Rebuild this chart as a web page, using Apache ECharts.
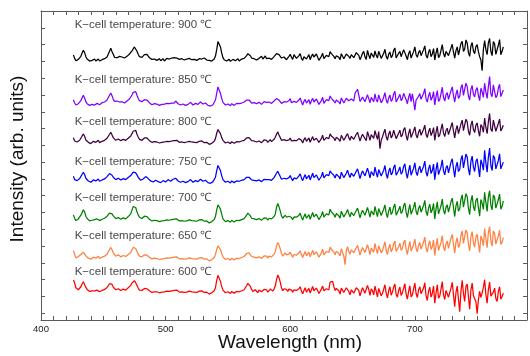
<!DOCTYPE html>
<html>
<head>
<meta charset="utf-8">
<script src="https://cdn.jsdelivr.net/npm/echarts@6/dist/echarts.min.js"></script>
<style>
    html, body { margin: 0; padding: 0; background: #fff; }
    #chart { width: 530px; height: 356px; }
</style>
</head>
<body>
<div id="chart"></div>
<script>
/* ------ data (offset as plotted, 1 nm steps) ------ */

var wavelength = [
    426,427,428,429,430,431,432,433,434,435,436,437,438,439,440,441,442,443,444,445,
    446,447,448,449,450,451,452,453,454,455,456,457,458,459,460,461,462,463,464,465,
    466,467,468,469,470,471,472,473,474,475,476,477,478,479,480,481,482,483,484,485,
    486,487,488,489,490,491,492,493,494,495,496,497,498,499,500,501,502,503,504,505,
    506,507,508,509,510,511,512,513,514,515,516,517,518,519,520,521,522,523,524,525,
    526,527,528,529,530,531,532,533,534,535,536,537,538,539,540,541,542,543,544,545,
    546,547,548,549,550,551,552,553,554,555,556,557,558,559,560,561,562,563,564,565,
    566,567,568,569,570,571,572,573,574,575,576,577,578,579,580,581,582,583,584,585,
    586,587,588,589,590,591,592,593,594,595,596,597,598,599,600,601,602,603,604,605,
    606,607,608,609,610,611,612,613,614,615,616,617,618,619,620,621,622,623,624,625,
    626,627,628,629,630,631,632,633,634,635,636,637,638,639,640,641,642,643,644,645,
    646,647,648,649,650,651,652,653,654,655,656,657,658,659,660,661,662,663,664,665,
    666,667,668,669,670,671,672,673,674,675,676,677,678,679,680,681,682,683,684,685,
    686,687,688,689,690,691,692,693,694,695,696,697,698,699,700,701,702,703,704,705,
    706,707,708,709,710,711,712,713,714,715,716,717,718,719,720,721,722,723,724,725,
    726,727,728,729,730,731,732,733,734,735,736,737,738,739,740,741,742,743,744,745,
    746,747,748,749,750,751,752,753,754,755,756,757,758,759,760,761,762,763,764,765,
    766,767,768,769,770,771
];

var temperatures = ['900', '850', '800', '750', '700', '650', '600'];

var s900 = [
    15.38,15.18,15.04,15.08,15.12,15.20,15.30,15.50,15.66,15.52,15.28,15.14,15.06,15.02,14.98,15.06,15.10,15.14,15.02,15.08,
    15.14,15.02,15.04,15.10,15.12,15.16,15.20,15.26,15.36,15.60,15.78,15.58,15.42,15.24,15.18,15.22,15.26,15.30,15.20,15.26,
    15.30,15.20,15.22,15.30,15.36,15.44,15.48,15.62,15.74,15.86,15.80,15.60,15.42,15.28,15.20,15.24,15.30,15.40,15.46,15.42,
    15.34,15.22,15.16,15.12,15.08,15.14,15.18,15.06,15.10,15.16,15.04,15.10,15.16,15.02,15.08,15.18,15.22,15.14,15.12,15.20,
    15.26,15.22,15.32,15.20,15.16,15.12,15.08,15.16,15.14,15.08,15.04,15.14,15.12,15.18,15.22,15.10,15.06,15.12,15.16,15.06,
    15.10,15.16,15.24,15.14,15.12,15.20,15.18,15.08,15.04,15.06,14.98,15.02,15.08,15.14,15.32,15.70,16.18,16.26,15.86,15.50,
    15.22,15.10,15.04,15.02,15.08,15.12,15.00,15.06,15.12,15.08,15.04,15.10,15.16,15.02,15.06,15.14,15.22,15.18,15.28,15.34,
    15.46,15.42,15.34,15.20,15.10,15.16,15.20,15.08,15.04,15.18,15.24,15.30,15.14,15.22,15.32,15.16,15.10,15.20,15.26,15.12,
    15.16,15.28,15.36,15.46,15.52,15.40,15.30,15.20,15.12,15.26,15.34,15.10,15.18,15.30,15.42,15.24,15.12,15.40,15.32,15.18,
    15.22,15.34,15.46,15.18,15.06,15.28,15.38,15.14,15.24,15.40,15.10,15.30,15.44,15.26,15.18,15.44,15.36,15.06,15.14,15.30,
    15.48,15.16,15.22,15.36,15.40,15.28,15.58,15.46,15.50,15.30,15.16,15.34,15.42,15.24,15.10,15.46,15.38,15.16,15.22,15.44,
    15.54,15.30,15.18,15.40,15.46,15.22,15.28,15.52,15.62,15.36,15.10,15.28,15.48,15.60,15.26,15.12,15.66,15.38,15.16,15.50,
    15.44,15.24,15.62,15.36,15.20,15.60,15.52,15.18,15.28,15.48,15.72,15.30,15.12,15.42,15.56,15.22,15.34,15.66,15.80,15.20,
    15.18,15.48,15.60,15.28,15.36,15.70,15.76,15.32,15.10,15.46,15.64,15.20,15.30,15.58,15.86,15.40,15.24,15.52,15.66,15.34,
    15.40,15.70,15.92,15.36,15.20,15.54,15.72,15.28,15.44,15.76,15.08,15.50,15.80,15.22,15.34,15.66,16.00,15.48,15.26,15.60,
    15.70,15.34,15.42,15.80,16.02,15.56,15.20,15.64,15.86,15.38,15.48,16.06,16.20,15.60,15.72,16.28,16.10,15.52,15.30,15.92,
    16.12,15.62,15.46,15.88,16.00,15.58,15.28,15.10,14.45,15.72,16.24,15.70,15.40,16.10,16.36,15.60,15.34,16.18,16.04,15.42,
    15.52,15.96,16.30,15.40,15.60,15.86
];

var s850 = [
    12.72,12.52,12.40,12.46,12.48,12.58,12.66,12.84,12.98,12.82,12.60,12.48,12.42,12.38,12.36,12.44,12.50,12.40,12.44,12.50,
    12.56,12.42,12.46,12.54,12.52,12.58,12.62,12.70,12.80,12.98,13.12,12.96,12.74,12.62,12.58,12.64,12.66,12.58,12.54,12.60,
    12.62,12.52,12.56,12.64,12.70,12.76,12.84,13.00,13.16,13.26,13.20,12.98,12.80,12.66,12.58,12.60,12.64,12.72,12.78,12.70,
    12.62,12.54,12.48,12.42,12.40,12.48,12.52,12.46,12.44,12.38,12.36,12.44,12.50,12.46,12.42,12.50,12.56,12.48,12.46,12.52,
    12.58,12.52,12.64,12.54,12.48,12.44,12.40,12.48,12.46,12.42,12.38,12.46,12.44,12.50,12.56,12.46,12.40,12.44,12.50,12.42,
    12.44,12.50,12.58,12.52,12.46,12.40,12.52,12.44,12.38,12.30,12.34,12.40,12.42,12.50,12.70,13.10,13.48,13.40,13.10,12.80,
    12.56,12.46,12.40,12.44,12.46,12.40,12.36,12.48,12.50,12.38,12.42,12.50,12.54,12.48,12.44,12.52,12.60,12.58,12.66,12.70,
    12.76,12.70,12.62,12.52,12.46,12.54,12.58,12.48,12.40,12.56,12.62,12.44,12.50,12.60,12.70,12.56,12.46,12.58,12.64,12.50,
    12.52,12.64,12.72,12.78,12.80,12.70,12.62,12.50,12.44,12.60,12.70,12.58,12.52,12.66,12.78,12.54,12.46,12.62,12.68,12.56,
    12.56,12.70,12.82,12.60,12.40,12.62,12.74,12.52,12.58,12.72,12.44,12.66,12.80,12.58,12.52,12.76,12.72,12.44,12.48,12.66,
    12.86,12.50,12.58,12.72,12.78,12.66,12.94,12.80,12.86,12.64,12.52,12.70,12.80,12.58,12.46,12.82,12.76,12.52,12.60,12.80,
    12.90,12.66,12.56,12.76,12.84,12.64,13.10,13.22,13.34,13.00,12.62,12.74,12.88,12.98,12.60,12.52,13.02,12.78,12.54,12.86,
    12.84,12.60,13.06,12.72,12.58,13.00,12.96,12.54,12.66,12.88,13.14,12.70,12.50,12.82,13.00,12.62,12.74,13.06,13.22,12.58,
    12.56,12.88,13.04,12.66,12.78,13.10,13.20,12.72,12.48,12.86,13.10,12.60,13.06,12.64,12.10,12.70,12.62,12.92,13.08,12.74,
    12.82,13.10,13.38,12.76,12.58,12.94,13.16,12.68,12.86,13.20,12.40,12.90,13.26,12.62,12.74,13.08,13.46,12.86,12.64,13.02,
    13.14,12.74,12.84,13.26,13.48,12.96,12.58,13.04,13.30,12.80,12.92,13.44,13.62,12.98,13.08,13.70,13.50,12.94,12.70,13.34,
    13.56,13.04,12.88,13.30,13.44,12.98,12.66,13.40,13.20,12.86,13.70,13.18,12.80,13.50,14.10,13.06,12.90,13.60,13.52,12.84,
    12.96,13.40,13.64,12.90,13.00,13.30
];

var s800 = [
    10.46,10.26,10.16,10.20,10.22,10.30,10.40,10.56,10.68,10.54,10.32,10.22,10.18,10.12,10.10,10.18,10.24,10.14,10.18,10.24,
    10.30,10.16,10.20,10.24,10.26,10.30,10.34,10.42,10.50,10.66,10.78,10.62,10.46,10.36,10.30,10.34,10.38,10.30,10.28,10.34,
    10.36,10.26,10.30,10.38,10.42,10.48,10.56,10.70,10.84,10.94,10.90,10.66,10.50,10.36,10.28,10.30,10.36,10.44,10.50,10.44,
    10.38,10.28,10.22,10.18,10.16,10.22,10.26,10.20,10.18,10.14,10.12,10.18,10.24,10.20,10.16,10.24,10.30,10.22,10.20,10.26,
    10.32,10.28,10.38,10.30,10.22,10.18,10.14,10.20,10.20,10.16,10.12,10.20,10.18,10.24,10.30,10.20,10.14,10.18,10.24,10.16,
    10.18,10.24,10.32,10.26,10.20,10.16,10.26,10.18,10.12,10.06,10.06,10.12,10.16,10.24,10.40,10.72,10.94,10.98,10.70,10.46,
    10.30,10.20,10.14,10.18,10.20,10.14,10.10,10.22,10.24,10.12,10.16,10.22,10.28,10.20,10.18,10.26,10.32,10.30,10.36,10.44,
    10.50,10.46,10.40,10.28,10.20,10.26,10.30,10.20,10.14,10.26,10.34,10.16,10.22,10.32,10.40,10.30,10.18,10.28,10.34,10.22,
    10.26,10.36,10.48,10.66,10.80,10.62,10.46,10.30,10.22,10.34,10.40,10.28,10.20,10.32,10.44,10.26,10.16,10.30,10.38,10.28,
    10.24,10.40,10.50,10.30,10.14,10.34,10.46,10.24,10.30,10.44,10.18,10.36,10.52,10.30,10.26,10.42,10.48,10.18,10.22,10.40,
    10.60,10.30,10.32,10.46,10.54,10.40,10.68,10.56,10.62,10.44,10.28,10.48,10.58,10.36,10.24,10.60,10.56,10.30,10.36,10.58,
    10.70,10.46,10.30,10.54,10.62,10.36,10.44,10.66,10.78,10.52,10.26,10.48,10.66,10.74,10.40,10.28,10.82,10.58,10.30,10.64,
    10.64,10.42,10.88,10.60,10.36,10.82,9.80,10.30,10.50,10.74,10.96,10.52,10.30,10.66,10.86,10.44,10.58,10.90,11.00,10.40,
    10.40,10.72,10.90,10.50,10.62,10.94,11.06,10.58,10.30,10.70,10.98,10.46,10.56,10.86,11.10,10.62,10.44,10.78,10.96,10.60,
    10.70,10.96,11.20,10.64,10.46,10.80,11.02,10.58,10.76,11.06,10.30,10.78,11.14,10.50,10.62,10.96,11.28,10.74,10.52,10.88,
    11.02,10.64,10.70,11.12,11.36,10.86,10.44,10.94,11.18,10.70,10.80,11.28,11.50,10.88,10.96,11.56,11.40,10.84,10.60,11.20,
    11.46,10.94,10.76,11.20,11.34,10.86,10.54,11.24,11.10,10.78,11.62,11.08,10.70,11.40,11.90,10.96,10.82,11.50,11.42,10.84,
    10.90,11.30,11.56,10.86,11.00,11.20
];

var s750 = [
    8.16,7.96,7.86,7.90,7.94,8.02,8.12,8.28,8.40,8.26,8.04,7.94,7.88,7.84,7.80,7.86,7.94,7.90,7.88,7.96,
    8.00,7.86,7.90,7.94,7.96,8.00,8.06,8.14,8.20,8.32,8.30,8.22,8.10,8.02,7.96,8.00,8.04,7.98,7.94,8.00,
    8.02,7.92,7.96,8.02,8.08,8.14,8.20,8.30,8.40,8.46,8.36,8.24,8.10,8.00,7.92,7.96,8.00,8.08,8.14,8.06,
    8.02,7.94,7.88,7.84,7.82,7.88,7.92,7.86,7.84,7.80,7.78,7.84,7.90,7.86,7.82,7.90,7.96,7.88,7.86,7.92,
    7.98,7.94,8.04,7.96,7.88,7.84,7.80,7.86,7.86,7.82,7.78,7.84,7.84,7.90,7.96,7.86,7.80,7.84,7.90,7.82,
    7.84,7.90,7.98,7.92,7.86,7.82,7.92,7.84,7.78,7.72,7.74,7.80,7.84,7.92,8.10,8.50,8.80,8.86,8.50,8.20,
    7.96,7.86,7.80,7.84,7.86,7.80,7.76,7.88,7.90,7.78,7.82,7.88,7.94,7.86,7.84,7.92,7.98,7.96,8.02,8.10,
    8.16,8.10,8.06,7.94,7.86,7.92,7.98,7.88,7.80,7.94,8.02,7.84,7.90,7.98,8.08,7.96,7.86,7.96,8.04,7.92,
    7.96,8.08,8.18,8.34,8.46,8.30,8.14,7.98,7.92,8.04,8.12,8.00,7.94,8.08,8.20,8.02,7.90,8.06,8.14,8.00,
    8.00,8.18,8.30,8.06,7.90,8.10,8.26,8.00,8.08,8.22,7.94,8.14,8.34,8.08,8.04,8.24,8.28,7.92,7.98,8.16,
    8.40,8.06,8.10,8.26,8.34,8.20,8.48,8.36,8.42,8.22,8.06,8.28,8.38,8.14,8.00,8.40,8.36,8.08,8.14,8.34,
    8.52,8.26,8.08,8.34,8.44,8.16,8.22,8.46,8.60,8.32,8.02,8.28,8.48,8.56,8.18,8.10,8.64,8.38,8.06,8.44,
    8.42,8.20,8.70,8.38,8.10,8.56,8.62,8.18,8.26,8.52,8.80,8.30,8.04,8.44,8.66,8.24,8.36,8.68,8.84,8.22,
    8.14,8.50,8.72,8.28,8.40,8.74,8.90,8.36,8.04,8.48,8.82,8.22,8.30,8.64,8.96,8.40,8.20,8.58,8.76,8.36,
    8.44,8.76,9.06,8.40,8.16,8.60,8.84,8.32,8.50,8.88,7.96,8.54,8.98,8.26,8.36,8.72,9.14,8.48,8.24,8.66,
    8.80,8.36,8.40,9.00,9.20,8.62,8.10,8.74,9.00,8.44,8.56,9.16,9.40,8.66,8.70,9.48,9.30,8.60,8.22,9.06,
    9.36,8.70,8.44,9.04,9.20,8.66,8.12,9.14,8.90,8.52,9.70,8.96,8.40,9.30,9.84,8.80,8.50,9.40,9.26,8.60,
    8.56,9.10,9.50,8.60,8.70,9.00
];

var s700 = [
    5.86,5.66,5.52,5.58,5.62,5.72,5.84,6.00,6.16,6.04,5.78,5.64,5.56,5.50,5.48,5.54,5.60,5.58,5.54,5.62,
    5.66,5.52,5.56,5.60,5.62,5.66,5.72,5.78,5.86,5.96,6.02,5.92,5.80,5.70,5.64,5.68,5.70,5.64,5.60,5.66,
    5.68,5.58,5.62,5.70,5.76,5.84,5.92,6.14,6.36,6.42,6.30,6.04,5.86,5.72,5.62,5.64,5.70,5.78,5.84,5.76,
    5.68,5.60,5.54,5.50,5.48,5.54,5.58,5.52,5.50,5.46,5.44,5.50,5.56,5.52,5.48,5.56,5.62,5.54,5.52,5.58,
    5.64,5.60,5.70,5.62,5.54,5.50,5.46,5.52,5.52,5.48,5.44,5.50,5.50,5.56,5.62,5.52,5.46,5.50,5.56,5.48,
    5.50,5.56,5.64,5.58,5.52,5.48,5.58,5.50,5.44,5.38,5.40,5.46,5.50,5.58,5.76,6.16,6.46,6.52,6.20,5.90,
    5.62,5.52,5.46,5.50,5.52,5.46,5.42,5.54,5.56,5.44,5.48,5.54,5.60,5.52,5.50,5.58,5.66,5.64,5.72,5.84,
    5.96,5.92,5.80,5.66,5.56,5.62,5.68,5.58,5.50,5.64,5.72,5.54,5.58,5.68,5.78,5.66,5.54,5.66,5.74,5.62,
    5.64,5.76,5.90,6.30,6.54,6.34,6.10,5.80,5.66,5.76,5.84,5.72,5.62,5.78,5.88,5.70,5.58,5.74,5.82,5.72,
    5.66,5.84,5.96,5.72,5.56,5.76,5.92,5.66,5.74,5.88,5.60,5.80,6.00,5.74,5.70,5.90,5.94,5.58,5.64,5.82,
    6.06,5.72,5.76,5.92,6.00,5.86,6.20,6.04,6.08,5.88,5.72,5.94,6.04,5.80,5.66,6.08,6.02,5.74,5.80,6.00,
    6.18,5.92,5.74,6.00,6.10,5.82,5.88,6.12,6.26,5.98,5.68,5.94,6.14,6.22,5.84,5.76,6.30,6.04,5.72,6.10,
    6.08,5.86,6.36,6.04,5.76,6.24,6.28,5.82,5.92,6.20,6.46,5.96,5.70,6.10,6.32,5.88,6.02,6.34,6.50,5.84,
    5.80,6.16,6.38,5.94,6.06,6.40,6.56,6.02,5.70,6.14,6.48,5.90,5.96,6.30,6.62,6.06,5.86,6.24,6.42,6.02,
    6.10,6.42,6.72,6.06,5.82,6.26,6.50,5.98,6.16,6.54,5.62,6.20,6.64,5.92,6.02,6.40,6.80,6.14,5.90,6.32,
    6.46,6.02,6.06,6.64,6.86,6.30,5.76,6.40,6.66,6.08,6.22,6.80,7.06,6.32,6.36,7.12,6.96,6.24,5.88,6.70,
    7.02,6.36,6.10,6.72,6.86,6.30,5.78,6.78,6.56,6.18,7.20,6.60,6.06,6.94,7.30,6.44,6.16,7.04,6.92,6.26,
    6.22,6.76,7.10,6.20,6.36,6.70
];

var s650 = [
    3.74,3.52,3.30,3.34,3.38,3.44,3.50,3.58,3.64,3.54,3.42,3.34,3.28,3.24,3.22,3.28,3.34,3.30,3.28,3.36,
    3.40,3.26,3.30,3.34,3.36,3.40,3.46,3.52,3.62,3.80,3.92,3.78,3.60,3.50,3.40,3.44,3.48,3.42,3.36,3.40,
    3.44,3.34,3.38,3.44,3.50,3.56,3.62,3.78,3.92,3.98,3.86,3.70,3.52,3.40,3.34,3.36,3.40,3.48,3.54,3.46,
    3.42,3.34,3.28,3.24,3.22,3.28,3.32,3.26,3.24,3.20,3.18,3.24,3.30,3.26,3.22,3.30,3.36,3.28,3.26,3.32,
    3.38,3.34,3.44,3.36,3.28,3.24,3.20,3.26,3.26,3.22,3.18,3.24,3.24,3.30,3.36,3.26,3.20,3.24,3.30,3.22,
    3.24,3.30,3.38,3.32,3.26,3.22,3.32,3.24,3.18,3.12,3.14,3.20,3.24,3.32,3.50,3.80,4.02,4.08,3.80,3.56,
    3.36,3.26,3.20,3.24,3.26,3.20,3.16,3.28,3.30,3.18,3.22,3.28,3.34,3.26,3.24,3.32,3.40,3.38,3.46,3.56,
    3.64,3.60,3.52,3.38,3.28,3.34,3.40,3.30,3.22,3.36,3.44,3.26,3.32,3.42,3.52,3.40,3.28,3.40,3.46,3.36,
    3.40,3.52,3.66,4.00,4.22,4.06,3.84,3.56,3.40,3.50,3.60,3.48,3.38,3.52,3.64,3.46,3.34,3.50,3.58,3.46,
    3.42,3.60,3.72,3.48,3.32,3.52,3.68,3.42,3.50,3.64,3.36,3.56,3.76,3.50,3.46,3.66,3.70,3.34,3.40,3.58,
    3.82,3.48,3.52,3.68,3.76,3.62,3.94,3.80,3.86,3.64,3.48,3.70,3.80,3.56,3.42,3.84,3.78,3.40,2.90,3.72,
    3.96,3.70,3.52,3.78,3.88,3.60,3.66,3.90,4.04,3.76,3.46,3.72,3.92,4.00,3.62,3.54,4.08,3.82,3.50,3.88,
    3.88,3.64,4.16,3.82,3.56,4.02,4.08,3.60,3.72,3.98,4.26,3.74,3.50,3.90,4.12,3.66,3.82,4.14,4.30,3.68,
    3.60,3.96,4.18,3.74,3.86,4.20,4.36,3.82,3.50,3.94,4.28,3.70,3.76,4.10,4.42,3.86,3.66,4.04,4.22,3.82,
    3.92,4.24,4.54,3.88,3.64,4.08,4.32,3.80,3.98,4.36,3.44,4.02,4.46,3.74,3.84,4.22,4.62,3.96,3.72,4.14,
    4.30,3.86,3.90,4.48,4.70,4.12,3.60,4.24,4.50,3.92,4.06,4.64,4.90,4.16,4.20,4.96,4.80,4.10,3.72,4.56,
    4.86,4.20,3.94,4.54,4.70,4.16,3.62,4.60,4.40,4.02,5.04,4.44,3.90,4.80,5.16,4.30,4.00,4.90,4.76,4.12,
    4.06,4.60,4.94,4.10,4.22,4.50
];

var s600 = [
    1.98,1.80,1.52,1.44,1.40,1.48,1.58,1.76,1.88,1.78,1.54,1.42,1.36,1.30,1.28,1.34,1.38,1.34,1.32,1.38,
    1.42,1.28,1.32,1.36,1.38,1.42,1.48,1.54,1.62,1.76,1.84,1.72,1.56,1.46,1.40,1.44,1.46,1.40,1.36,1.42,
    1.44,1.34,1.38,1.46,1.52,1.60,1.66,1.80,1.88,1.94,1.82,1.66,1.50,1.38,1.32,1.36,1.40,1.48,1.52,1.46,
    1.40,1.34,1.28,1.24,1.22,1.28,1.32,1.28,1.26,1.22,1.20,1.26,1.32,1.28,1.24,1.32,1.38,1.30,1.28,1.34,
    1.40,1.36,1.46,1.38,1.30,1.26,1.22,1.28,1.28,1.24,1.20,1.26,1.26,1.32,1.38,1.28,1.22,1.26,1.32,1.24,
    1.26,1.32,1.40,1.34,1.28,1.24,1.34,1.26,1.20,1.14,1.16,1.22,1.26,1.34,1.52,1.96,2.26,2.30,1.90,1.60,
    1.38,1.28,1.22,1.26,1.28,1.22,1.18,1.30,1.32,1.20,1.24,1.30,1.36,1.28,1.26,1.34,1.42,1.40,1.48,1.64,
    1.78,1.72,1.60,1.42,1.30,1.36,1.40,1.32,1.22,1.38,1.44,1.28,1.30,1.42,1.50,1.40,1.26,1.36,1.44,1.34,
    1.32,1.44,1.62,2.00,2.28,2.12,1.86,1.52,1.34,1.46,1.52,1.42,1.30,1.44,1.54,1.38,1.26,1.40,1.48,1.36,
    1.28,1.46,1.58,1.32,1.16,1.36,1.52,1.26,1.34,1.48,1.20,1.40,1.60,1.34,1.30,1.50,1.54,1.18,1.22,1.44,
    1.62,1.34,1.28,1.46,1.52,1.40,1.86,1.96,1.90,1.60,1.36,1.48,1.58,1.34,1.14,1.50,1.54,1.24,1.30,1.52,
    1.56,1.30,1.10,1.40,1.48,1.20,1.24,1.52,1.62,1.36,1.04,1.30,1.52,1.58,1.20,1.14,1.66,1.42,1.06,1.46,
    1.34,1.10,1.62,1.30,0.98,1.48,1.54,1.04,1.18,1.44,1.70,1.20,0.92,1.34,1.58,1.08,1.26,1.56,1.74,1.12,
    0.96,1.36,1.56,1.06,1.22,1.50,1.76,1.14,0.84,1.30,1.64,0.98,1.10,1.46,1.80,1.18,0.94,1.40,1.58,1.16,
    1.12,1.50,1.82,1.04,0.76,1.32,1.56,0.96,1.18,1.62,0.60,1.20,1.70,0.90,1.02,1.44,1.88,1.10,0.82,1.36,
    1.42,0.96,0.90,1.50,1.84,1.10,0.40,1.24,1.62,0.84,0.10,1.30,1.96,1.18,0.70,1.60,1.74,1.00,0.24,1.40,
    1.80,1.06,0.86,0.70,-0.02,0.80,1.30,0.94,1.22,1.54,2.00,1.12,0.60,1.40,1.86,1.02,0.92,1.26,1.50,0.88,
    0.70,1.30,1.58,0.84,1.00,1.20
];

var spectra = [s900, s850, s800, s750, s700, s650, s600];

var xTickLabels = [400, 500, 600, 700];
var yTicks = [0,1,2,3,4,5,6,7,8,9,10,11,12,13,14,15,16,17,18];

/* ------ style ------ */

var colors = ['#000000', '#8000ff', '#400040', '#0000ff', '#008000', '#ff8040', '#ff0000'];
var labelY = [17.16, 13.92, 11.4, 9.0, 6.88, 4.6, 2.48];   // where each caption sits
var axisColor = '#5a5a5a';
var font = 'Liberation Sans, Arial, sans-serif';

/* ------ chart ------ */

var chart = echarts.init(document.getElementById('chart'));

function frameX(pos, labels) {
    return {
        type: 'value',
        position: pos,
        min: 400,
        max: 790,
        interval: 10,
        axisLine: { show: true, onZero: false, lineStyle: { color: axisColor, width: 1 } },
        axisTick: { show: true, inside: true, length: 4, lineStyle: { color: axisColor } },
        axisLabel: {
            show: labels,
            margin: 4,
            fontSize: 9.5,
            color: '#222',
            fontFamily: font,
            formatter: function (v) {
                return xTickLabels.indexOf(v) >= 0 ? String(v) : '';
            }
        },
        splitLine: { show: false }
    };
}

function frameY(pos) {
    return {
        type: 'value',
        position: pos,
        min: -0.4,
        max: 18,
        axisLine: { show: true, onZero: false, lineStyle: { color: axisColor, width: 1 } },
        axisTick: { show: true, inside: true, length: 4, customValues: yTicks, lineStyle: { color: axisColor } },
        axisLabel: { show: false },
        splitLine: { show: false }
    };
}

var series = [];
spectra.forEach(function (s, k) {
    series.push({
        name: temperatures[k],
        type: 'line',
        symbol: 'none',
        showSymbol: false,
        silent: true,
        lineStyle: { color: colors[k], width: 1.25 },
        data: wavelength.map(function (w, i) { return [w, s[i]]; })
    });
});

// captions above each spectrum
series.push({
    type: 'scatter',
    symbolSize: 0,
    silent: true,
    data: temperatures.map(function (t, k) { return [427, labelY[k], t]; }),
    label: {
        show: true,
        position: 'right',
        distance: 0,
        fontSize: 11.5,
        color: '#111',
        fontFamily: font,
        formatter: function (p) { return 'K\u2212cell temperature: ' + p.value[2] + ' \u2103'; }
    }
});

option = {
    animation: false,
    backgroundColor: '#fff',
    grid: { left: 41, top: 11, width: 491, height: 309 },
    xAxis: [frameX('bottom', true), frameX('top', false)],
    yAxis: [frameY('left'), frameY('right')],
    series: series,
    graphic: [
        {
            type: 'text',
            x: 290, y: 343,
            style: { text: 'Wavelength (nm)', fontSize: 19, fontFamily: font, fill: '#111', textAlign: 'center', textVerticalAlign: 'middle' }
        },
        {
            type: 'text',
            x: 18, y: 159,
            rotation: Math.PI / 2,
            style: { text: 'Intensity (arb. units)', fontSize: 19, fontFamily: font, fill: '#111', textAlign: 'center', textVerticalAlign: 'middle' }
        }
    ]
};
chart.setOption(option);
</script>
</body>
</html>
